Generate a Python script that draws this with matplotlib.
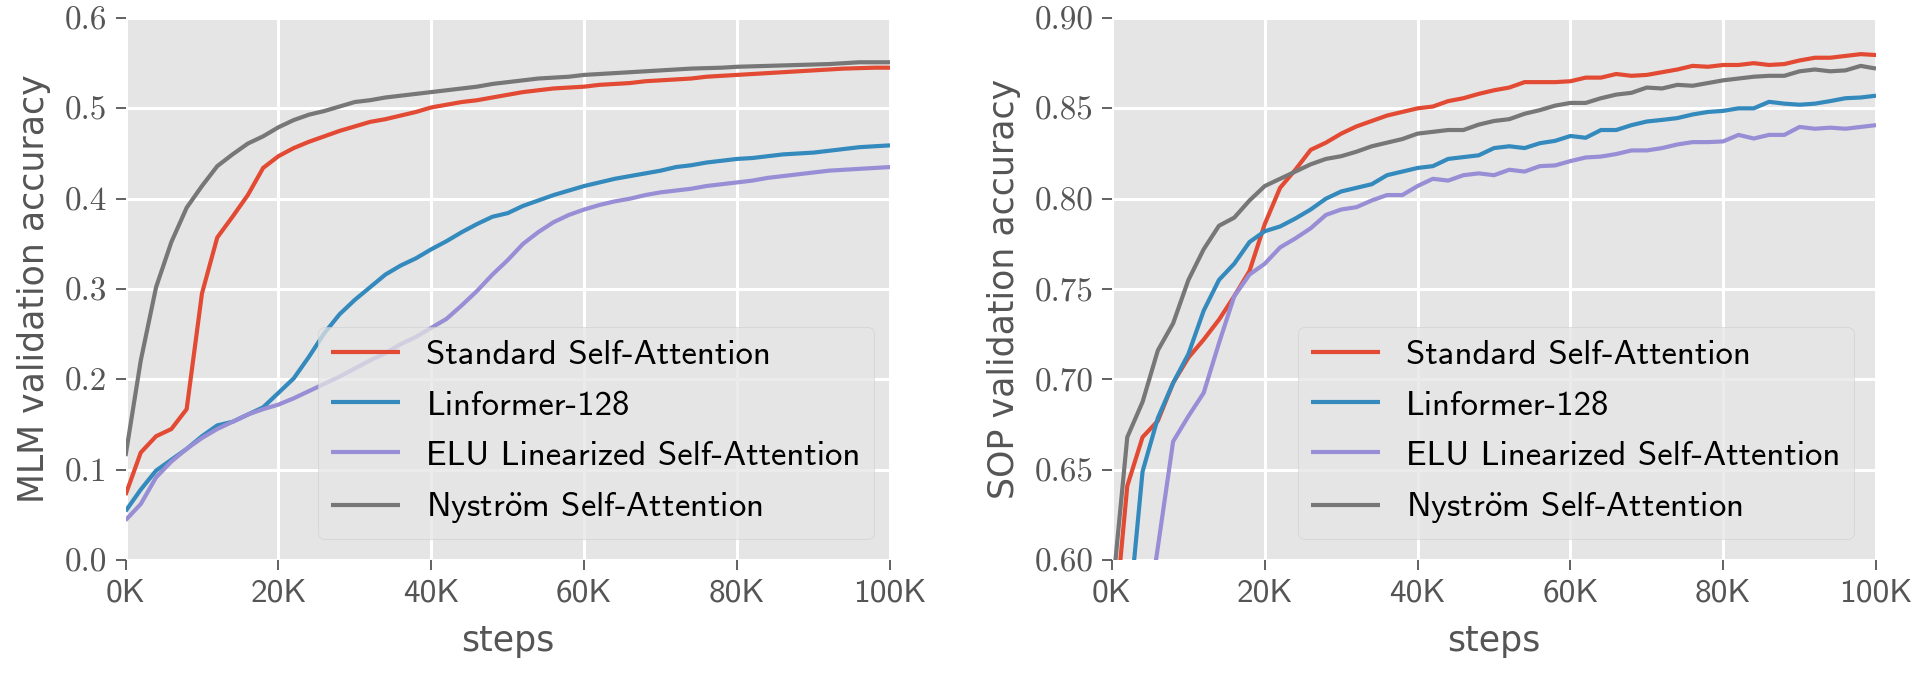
import matplotlib
matplotlib.use("Agg")
import matplotlib.pyplot as plt
import numpy as np

plt.style.use("ggplot")
plt.rcParams["mathtext.fontset"] = "cm"
plt.rcParams["axes.unicode_minus"] = False

steps = np.arange(0, 101, 2) * 1000  # 0K .. 100K every 2K

# ---- MLM validation accuracy (left) ----
mlm_standard = [0.072, 0.119, 0.137, 0.145, 0.167, 0.295, 0.357, 0.380, 0.404, 0.434,
                0.447, 0.456, 0.463, 0.469, 0.475, 0.480, 0.485, 0.488, 0.492, 0.496,
                0.501, 0.504, 0.507, 0.509, 0.512, 0.515, 0.518, 0.520, 0.522, 0.523,
                0.524, 0.526, 0.527, 0.528, 0.530, 0.531, 0.532, 0.533, 0.535, 0.536,
                0.537, 0.538, 0.539, 0.540, 0.541, 0.542, 0.543, 0.544, 0.5445, 0.545,
                0.545]
mlm_linformer = [0.054, 0.078, 0.099, 0.111, 0.123, 0.137, 0.149, 0.153, 0.161, 0.169,
                 0.185, 0.201, 0.225, 0.251, 0.272, 0.288, 0.302, 0.316, 0.326, 0.334,
                 0.344, 0.353, 0.363, 0.372, 0.380, 0.384, 0.392, 0.398, 0.404, 0.409,
                 0.414, 0.418, 0.422, 0.425, 0.428, 0.431, 0.435, 0.437, 0.440, 0.442,
                 0.444, 0.445, 0.447, 0.449, 0.450, 0.451, 0.453, 0.455, 0.457, 0.458,
                 0.459]
mlm_elu = [0.044, 0.062, 0.0915, 0.109, 0.123, 0.135, 0.145, 0.153, 0.161, 0.167,
           0.172, 0.179, 0.187, 0.195, 0.203, 0.212, 0.221, 0.229, 0.239, 0.247,
           0.257, 0.267, 0.282, 0.298, 0.316, 0.332, 0.350, 0.363, 0.374, 0.382,
           0.388, 0.393, 0.397, 0.400, 0.404, 0.407, 0.409, 0.411, 0.414, 0.416,
           0.418, 0.420, 0.423, 0.425, 0.427, 0.429, 0.431, 0.432, 0.433, 0.434,
           0.435]
mlm_nystrom = [0.115, 0.221, 0.302, 0.352, 0.390, 0.414, 0.436, 0.449, 0.461, 0.469,
               0.479, 0.487, 0.493, 0.497, 0.502, 0.507, 0.509, 0.512, 0.514, 0.516,
               0.518, 0.520, 0.522, 0.524, 0.527, 0.529, 0.531, 0.533, 0.534, 0.535,
               0.537, 0.538, 0.539, 0.540, 0.541, 0.542, 0.543, 0.544, 0.5445, 0.545,
               0.546, 0.5465, 0.547, 0.5475, 0.548, 0.5485, 0.549, 0.550, 0.551, 0.551,
               0.551]

# ---- SOP validation accuracy (right) ----
sop_standard = [0.55, 0.641, 0.668, 0.677, 0.698, 0.712, 0.722, 0.733, 0.746, 0.760,
                0.786, 0.806, 0.816, 0.827, 0.831, 0.836, 0.840, 0.843, 0.846, 0.848,
                0.850, 0.851, 0.854, 0.8556, 0.858, 0.860, 0.8615, 0.8645, 0.8645, 0.8645,
                0.865, 0.867, 0.867, 0.869, 0.868, 0.8685, 0.870, 0.8715, 0.8735, 0.873,
                0.874, 0.874, 0.875, 0.874, 0.8745, 0.8765, 0.878, 0.878, 0.879, 0.880,
                0.8795]
sop_linformer = [0.50, 0.56, 0.649, 0.6786, 0.698, 0.714, 0.738, 0.755, 0.764, 0.776,
                 0.782, 0.7846, 0.789, 0.794, 0.800, 0.804, 0.806, 0.808, 0.813, 0.815,
                 0.817, 0.818, 0.822, 0.823, 0.824, 0.828, 0.829, 0.828, 0.8307, 0.832,
                 0.8347, 0.8337, 0.838, 0.838, 0.8407, 0.8427, 0.8436, 0.8446, 0.8466, 0.848,
                 0.8486, 0.850, 0.850, 0.8536, 0.8526, 0.852, 0.8526, 0.854, 0.8556, 0.856,
                 0.857]
sop_elu = [0.45, 0.50, 0.55, 0.607, 0.6656, 0.6796, 0.6925, 0.720, 0.746, 0.758,
           0.764, 0.773, 0.778, 0.7836, 0.791, 0.794, 0.7953, 0.799, 0.802, 0.802,
           0.807, 0.811, 0.810, 0.813, 0.814, 0.813, 0.816, 0.815, 0.818, 0.8184,
           0.8208, 0.8228, 0.8233, 0.8247, 0.8267, 0.8267, 0.828, 0.830, 0.8313, 0.8313,
           0.8317, 0.8353, 0.8333, 0.8353, 0.8353, 0.8397, 0.8387, 0.8393, 0.8387, 0.8397,
           0.8407]
sop_nystrom = [0.58, 0.668, 0.6875, 0.716, 0.731, 0.755, 0.772, 0.785, 0.7895, 0.799,
               0.807, 0.811, 0.815, 0.819, 0.822, 0.8235, 0.826, 0.829, 0.831, 0.833,
               0.836, 0.837, 0.838, 0.838, 0.841, 0.843, 0.844, 0.847, 0.849, 0.8515,
               0.853, 0.853, 0.8556, 0.8576, 0.8586, 0.8615, 0.861, 0.863, 0.8625, 0.864,
               0.8655, 0.8665, 0.8675, 0.868, 0.868, 0.8705, 0.8715, 0.8705, 0.871, 0.8735,
               0.872]

series_names = ["Standard Self-Attention", "Linformer-128",
                "ELU Linearized Self-Attention", r"Nystr$\ddot{\mathsf{o}}$m Self-Attention"]
series_colors = ["#E24A33", "#348ABD", "#988ED5", "#777777"]

xticks = [0, 20000, 40000, 60000, 80000, 100000]
xticklabels = ["0K", "20K", "40K", "60K", "80K", "100K"]
yticks_mlm = [0.0, 0.1, 0.2, 0.3, 0.4, 0.5, 0.6]
yticklabels_mlm = ["0.0", "0.1", "0.2", "0.3", "0.4", "0.5", "0.6"]
yticks_sop = [0.60, 0.65, 0.70, 0.75, 0.80, 0.85, 0.90]
yticklabels_sop = ["0.60", "0.65", "0.70", "0.75", "0.80", "0.85", "0.90"]

W, H = 1920, 675
fig = plt.figure(figsize=(19.2, 6.75), dpi=100)
ax1 = fig.add_axes([125.5 / W, 1 - 560 / H, 764.5 / W, 542 / H])
ax2 = fig.add_axes([1112 / W, 1 - 560 / H, 764 / W, 542 / H])

TICKFS = 24
LABELFS = 25
LEGFS = 25


def style(ax, data, ylim, yticks, yticklabels, ylabel, anchor):
    for vals, name, col in zip(data, series_names, series_colors):
        ax.plot(steps, vals, color=col, lw=3.0, label=name, solid_capstyle="butt")
    ax.set_xlim(0, 100000)
    ax.set_ylim(*ylim)
    ax.set_xticks(xticks, labels=xticklabels, fontfamily="cmss10", fontsize=TICKFS)
    ax.set_yticks(yticks, labels=yticklabels, fontfamily="cmr10", fontsize=TICKFS)
    ax.tick_params(colors="#555555", labelcolor="#555555", length=7, width=1.3, pad=6)
    ax.grid(True, color="white", lw=2.2)
    ax.set_facecolor("#E5E5E5")
    for s in ax.spines.values():
        s.set_visible(False)
    ax.set_xlabel("steps", fontsize=LABELFS, color="#555555", family="DejaVu Sans", labelpad=12)
    ax.set_ylabel(ylabel, fontsize=LABELFS, color="#555555", family="DejaVu Sans", labelpad=10)
    leg = ax.legend(loc="lower right", bbox_to_anchor=anchor, borderaxespad=0,
                    prop={"family": "cmss10", "size": LEGFS}, handlelength=2.0,
                    handletextpad=0.75, labelspacing=0.54, borderpad=0.38,
                    framealpha=0.75, fancybox=True)
    leg.get_frame().set_facecolor("#E5E5E5")
    leg.get_frame().set_edgecolor("#CCCCCC")
    for t in leg.get_texts():
        t.set_color("black")


style(ax1, [mlm_standard, mlm_linformer, mlm_elu, mlm_nystrom], (0.0, 0.6),
      yticks_mlm, yticklabels_mlm, "MLM validation accuracy", (0.979, 0.039))
style(ax2, [sop_standard, sop_linformer, sop_elu, sop_nystrom], (0.60, 0.90),
      yticks_sop, yticklabels_sop, "SOP validation accuracy", (0.971, 0.039))

fig.savefig("out.png", dpi=100, facecolor="white")
